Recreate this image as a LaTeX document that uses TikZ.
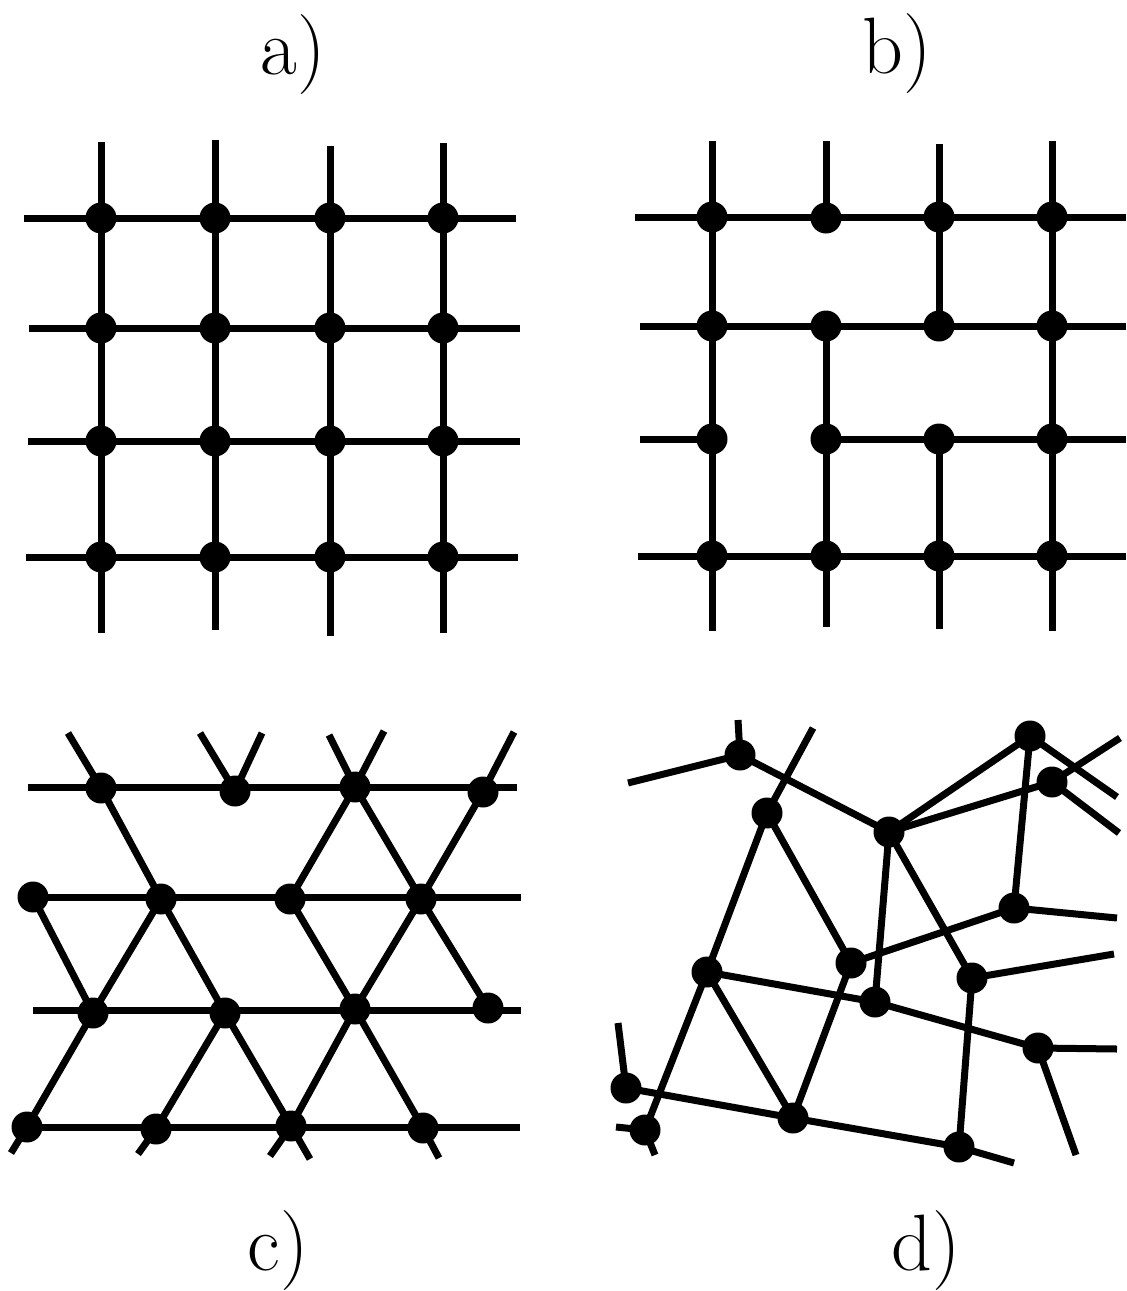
\documentclass[tikz,border=0pt]{standalone}
\begin{document}
\begin{tikzpicture}[x=0.5pt,y=-0.5pt,
  dot/.style={circle,fill=black,draw=none,inner sep=0pt,minimum size=15.5pt},
  edge/.style={draw=black,line width=3.5pt},
  lab/.style={font=\rmfamily\fontsize{40}{46}\selectfont,anchor=base,inner sep=0pt}]
\useasboundingbox (0,0) rectangle (1127,1291);

% ---------------- labels ----------------
\node[lab] (la) at (293,74) {a)};
\node[lab] (lb) at (897,73) {b)};
\node[lab] (lc) at (278,1270) {c)};
\node[lab] (ld) at (926,1270) {d)};

% ---------------- panel a ----------------
\node[dot] (a11) at (101,218) {}; \node[dot] (a12) at (215,218) {};
\node[dot] (a13) at (330,218) {}; \node[dot] (a14) at (443,218) {};
\node[dot] (a21) at (101,328) {}; \node[dot] (a22) at (215,328) {};
\node[dot] (a23) at (330,328) {}; \node[dot] (a24) at (443,328) {};
\node[dot] (a31) at (101,441) {}; \node[dot] (a32) at (215,441) {};
\node[dot] (a33) at (330,441) {}; \node[dot] (a34) at (443,441) {};
\node[dot] (a41) at (101,557) {}; \node[dot] (a42) at (215,557) {};
\node[dot] (a43) at (330,557) {}; \node[dot] (a44) at (443,557) {};
\coordinate (at1) at (101,142); \coordinate (ab1) at (101,633);
\coordinate (at2) at (215,140); \coordinate (ab2) at (215,630);
\coordinate (at3) at (330,146); \coordinate (ab3) at (330,636);
\coordinate (at4) at (443,143); \coordinate (ab4) at (443,633);
\coordinate (al1) at (24,218);  \coordinate (ar1) at (516,218);
\coordinate (al2) at (29,328);  \coordinate (ar2) at (520,328);
\coordinate (al3) at (28,441);  \coordinate (ar3) at (520,441);
\coordinate (al4) at (26,557);  \coordinate (ar4) at (518,557);
\draw[edge] (at1) -- (a11.center) -- (a21.center) -- (a31.center) -- (a41.center) -- (ab1);
\draw[edge] (at2) -- (a12.center) -- (a22.center) -- (a32.center) -- (a42.center) -- (ab2);
\draw[edge] (at3) -- (a13.center) -- (a23.center) -- (a33.center) -- (a43.center) -- (ab3);
\draw[edge] (at4) -- (a14.center) -- (a24.center) -- (a34.center) -- (a44.center) -- (ab4);
\draw[edge] (al1) -- (a11.center) -- (a12.center) -- (a13.center) -- (a14.center) -- (ar1);
\draw[edge] (al2) -- (a21.center) -- (a22.center) -- (a23.center) -- (a24.center) -- (ar2);
\draw[edge] (al3) -- (a31.center) -- (a32.center) -- (a33.center) -- (a34.center) -- (ar3);
\draw[edge] (al4) -- (a41.center) -- (a42.center) -- (a43.center) -- (a44.center) -- (ar4);

% ---------------- panel b ----------------
\node[dot] (b11) at (712,217) {}; \node[dot] (b12) at (826,218) {};
\node[dot] (b13) at (939,217) {}; \node[dot] (b14) at (1052,217) {};
\node[dot] (b21) at (712,326) {}; \node[dot] (b22) at (826,326) {};
\node[dot] (b23) at (939,326) {}; \node[dot] (b24) at (1052,326) {};
\node[dot] (b31) at (712,439) {}; \node[dot] (b32) at (826,439) {};
\node[dot] (b33) at (939,439) {}; \node[dot] (b34) at (1052,439) {};
\node[dot] (b41) at (712,556) {}; \node[dot] (b42) at (826,556) {};
\node[dot] (b43) at (939,556) {}; \node[dot] (b44) at (1052,556) {};
\coordinate (bt1) at (712,141); \coordinate (bb1) at (712,631);
\coordinate (bt2) at (826,141); \coordinate (bb2) at (826,627);
\coordinate (bt3) at (939,144); \coordinate (bb3) at (939,629);
\coordinate (bt4) at (1052,141); \coordinate (bb4) at (1052,631);
\coordinate (bl1) at (635,217); \coordinate (br1) at (1126,217);
\coordinate (bl2) at (640,326); \coordinate (br2) at (1126,326);
\coordinate (bl3) at (640,439); \coordinate (br3) at (1126,439);
\coordinate (bl4) at (638,556); \coordinate (br4) at (1126,556);
\draw[edge] (bt1) -- (b11.center) -- (b21.center) -- (b31.center) -- (b41.center) -- (bb1);
\draw[edge] (bt2) -- (b12.center);
\draw[edge] (b22.center) -- (b32.center) -- (b42.center) -- (bb2);
\draw[edge] (bt3) -- (b13.center) -- (b23.center);
\draw[edge] (b33.center) -- (b43.center) -- (bb3);
\draw[edge] (bt4) -- (b14.center) -- (b24.center) -- (b34.center) -- (b44.center) -- (bb4);
\draw[edge] (bl1) -- (b11.center) -- (b13.center) -- (b14.center) -- (br1);
\draw[edge] (bl2) -- (b21.center) -- (b22.center) -- (b23.center) -- (b24.center) -- (br2);
\draw[edge] (bl3) -- (b31.center);
\draw[edge] (b32.center) -- (b33.center) -- (b34.center) -- (br3);
\draw[edge] (bl4) -- (b41.center) -- (b42.center) -- (b43.center) -- (b44.center) -- (br4);

% ---------------- panel c ----------------
\node[dot] (c11) at (101,788) {};  \node[dot] (c12) at (235,791) {};
\node[dot] (c13) at (355,787) {};  \node[dot] (c14) at (483,792) {};
\node[dot] (c21) at (33,897) {};   \node[dot] (c22) at (161,899) {};
\node[dot] (c23) at (290,899) {};  \node[dot] (c24) at (421,899) {};
\node[dot] (c31) at (93,1013) {};  \node[dot] (c32) at (225,1013) {};
\node[dot] (c33) at (355,1009) {}; \node[dot] (c34) at (488,1008) {};
\node[dot] (c41) at (27,1127) {};  \node[dot] (c42) at (156,1129) {};
\node[dot] (c43) at (291,1126) {}; \node[dot] (c44) at (423,1128) {};
\coordinate (cs1) at (68,733);  \coordinate (cs2) at (200,733);
\coordinate (cs3) at (262,733); \coordinate (cs4) at (329,735);
\coordinate (cs5) at (384,731); \coordinate (cs6) at (514,732);
\coordinate (ce1) at (11,1153); \coordinate (ce2) at (138,1154);
\coordinate (ce3) at (270,1156); \coordinate (ce4) at (310,1159);
\coordinate (ce5) at (439,1158);
\coordinate (cl1) at (28,787);  \coordinate (cr1) at (517,787);
\coordinate (cr2) at (521,897);
\coordinate (cl3) at (33,1010); \coordinate (cr3) at (521,1010);
\coordinate (cr4) at (520,1127);
\draw[edge] (cl1) -- (cr1);
\draw[edge] (c21.center) -- (cr2);
\draw[edge] (cl3) -- (cr3);
\draw[edge] (c41.center) -- (cr4);
\draw[edge] (cs1) -- (c11.center) -- (c22.center) -- (c32.center) -- (c43.center) -- (ce4);
\draw[edge] (cs2) -- (c12.center) -- (cs3);
\draw[edge] (cs4) -- (c13.center) -- (c24.center) -- (c34.center);
\draw[edge] (cs5) -- (c13.center) -- (c23.center);
\draw[edge] (cs6) -- (c14.center) -- (c24.center) -- (c33.center) -- (c43.center) -- (ce3);
\draw[edge] (c23.center) -- (c33.center) -- (c44.center) -- (ce5);
\draw[edge] (c21.center) -- (c31.center);
\draw[edge] (c22.center) -- (c31.center) -- (c41.center) -- (ce1);
\draw[edge] (c32.center) -- (c42.center) -- (ce2);

% ---------------- panel d ----------------
\node[dot] (d1) at (740,755) {};   \node[dot] (d2) at (1030,736) {};
\node[dot] (d3) at (1052,782) {};  \node[dot] (d4) at (767,813) {};
\node[dot] (d5) at (889,832) {};   \node[dot] (d6) at (1014,908) {};
\node[dot] (d7) at (851,963) {};   \node[dot] (d8) at (972,978) {};
\node[dot] (d9) at (707,972) {};   \node[dot] (d10) at (875,1002) {};
\node[dot] (d11) at (1038,1048) {};\node[dot] (d12) at (626,1088) {};
\node[dot] (d13) at (793,1118) {}; \node[dot] (d14) at (645,1130) {};
\node[dot] (d15) at (959,1147) {};
\coordinate (e1) at (738,720);  \coordinate (e2) at (628,783);
\coordinate (e3) at (813,728);  \coordinate (e4) at (1117,797);
\coordinate (e5) at (1120,738); \coordinate (e6) at (1119,833);
\coordinate (e7) at (1117,918); \coordinate (e8) at (1114,954);
\coordinate (e9) at (1117,1049); \coordinate (e10) at (1076,1155);
\coordinate (e11) at (1014,1163); \coordinate (e12) at (618,1023);
\coordinate (e13) at (616,1127); \coordinate (e14) at (655,1155);
\draw[edge] (e1) -- (d1.center);
\draw[edge] (e2) -- (d1.center) -- (d5.center);
\draw[edge] (e3) -- (d4.center) -- (d9.center) -- (d14.center);
\draw[edge] (d4.center) -- (d7.center);
\draw[edge] (d5.center) -- (d2.center) -- (e4);
\draw[edge] (d5.center) -- (d3.center);
\draw[edge] (e5) -- (d3.center) -- (e6);
\draw[edge] (d2.center) -- (d6.center) -- (e7);
\draw[edge] (d6.center) -- (d7.center);
\draw[edge] (d5.center) -- (d10.center);
\draw[edge] (d5.center) -- (d8.center) -- (e8);
\draw[edge] (d8.center) -- (d15.center) -- (e11);
\draw[edge] (d9.center) -- (d10.center) -- (d11.center) -- (e9);
\draw[edge] (d11.center) -- (e10);
\draw[edge] (d7.center) -- (d13.center);
\draw[edge] (d9.center) -- (d13.center);
\draw[edge] (e12) -- (d12.center) -- (d13.center) -- (d15.center);
\draw[edge] (e13) -- (d14.center) -- (e14);
\end{tikzpicture}
\end{document}
